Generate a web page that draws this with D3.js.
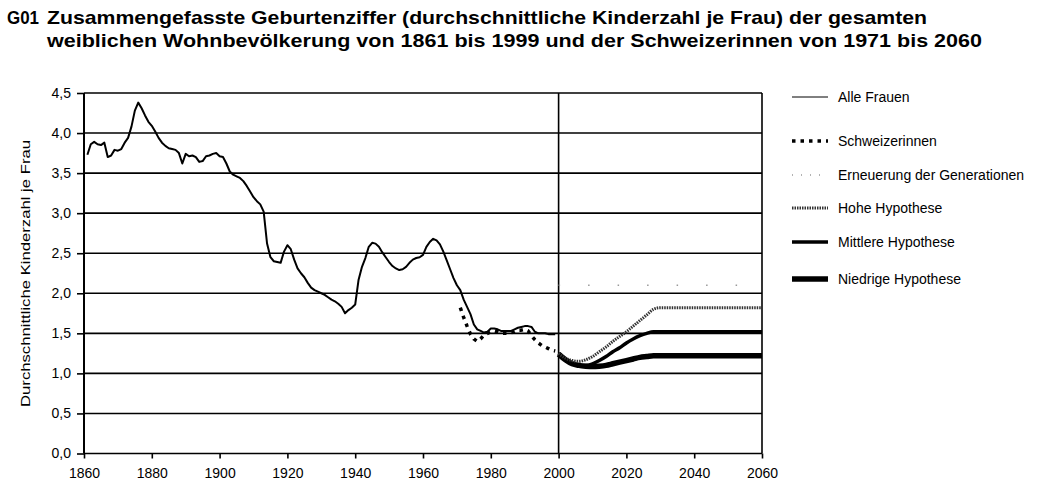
<!DOCTYPE html>
<html>
<head>
<meta charset="utf-8">
<script src="https://cdn.jsdelivr.net/npm/d3@7"></script>
<style>
  body { margin: 0; background: #fff; }
  text { font-family: "Liberation Sans", Arial, sans-serif; }
</style>
</head>
<body>
<svg id="canvas" width="1060" height="481"></svg>
<script>
const svg = d3.select("#canvas");

// Alle Frauen 1861-1999
const alleYears = d3.range(1861, 2000);
const alleValues = [
    3.73, 3.86, 3.89, 3.86, 3.85, 3.88, 3.70, 3.72, 3.79, 3.78,
    3.80, 3.88, 3.94, 4.08, 4.28, 4.38, 4.31, 4.22, 4.14, 4.09,
    4.02, 3.94, 3.88, 3.84, 3.81, 3.80, 3.79, 3.75, 3.62, 3.74,
    3.71, 3.72, 3.70, 3.64, 3.65, 3.71, 3.72, 3.74, 3.75, 3.71,
    3.70, 3.62, 3.52, 3.48, 3.46, 3.44, 3.40, 3.34, 3.27, 3.20,
    3.15, 3.11, 3.02, 2.62, 2.45, 2.40, 2.39, 2.38, 2.52, 2.60,
    2.55, 2.42, 2.31, 2.25, 2.20, 2.13, 2.07, 2.04, 2.02, 2.00,
    1.98, 1.95, 1.92, 1.90, 1.87, 1.83, 1.75, 1.79, 1.82, 1.86,
    2.17, 2.33, 2.44, 2.58, 2.63, 2.62, 2.58, 2.51, 2.45, 2.39,
    2.34, 2.31, 2.29, 2.30, 2.33, 2.38, 2.42, 2.44, 2.45, 2.48,
    2.58, 2.64, 2.68, 2.66, 2.61, 2.52, 2.41, 2.30, 2.19, 2.10,
    2.04, 1.92, 1.83, 1.74, 1.61, 1.55, 1.53, 1.51, 1.52, 1.56,
    1.56, 1.55, 1.53, 1.53, 1.53, 1.53, 1.55, 1.57, 1.58, 1.59,
    1.59, 1.58, 1.52, 1.50, 1.50, 1.50, 1.49, 1.49, 1.49
];

// Schweizerinnen 1971-1999
const schweizYears = d3.range(1971, 2000);
const schweizValues = [
    1.82, 1.70, 1.59, 1.49, 1.43, 1.40, 1.43, 1.48, 1.50, 1.52,
    1.53, 1.52, 1.50, 1.50, 1.50, 1.51, 1.52, 1.54, 1.54, 1.55,
    1.53, 1.47, 1.42, 1.38, 1.35, 1.33, 1.31, 1.29, 1.28
];

// Szenarien 2000-2060
const projYears = [2000, 2002, 2004, 2006, 2008, 2010, 2012, 2014, 2016, 2018,
                   2020, 2022, 2024, 2026, 2028, 2030, 2040, 2050, 2060];
const hoheValues = [1.25, 1.19, 1.16, 1.15, 1.17, 1.21, 1.27, 1.33, 1.40, 1.46,
                    1.52, 1.59, 1.66, 1.73, 1.80, 1.82, 1.82, 1.82, 1.82];
const mittlereValues = [1.25, 1.18, 1.13, 1.10, 1.10, 1.12, 1.16, 1.21, 1.27, 1.32,
                        1.38, 1.43, 1.47, 1.50, 1.52, 1.52, 1.52, 1.52, 1.52];
const niedrigeValues = [1.24, 1.17, 1.12, 1.10, 1.09, 1.085, 1.09, 1.10, 1.12, 1.14,
                        1.16, 1.18, 1.20, 1.21, 1.22, 1.22, 1.22, 1.22, 1.22];

const erneuerungYears = [2000, 2060];
const erneuerungValues = [2.1, 2.1];

const yTicks = [0, 0.5, 1, 1.5, 2, 2.5, 3, 3.5, 4, 4.5];
const xTicks = [1860, 1880, 1900, 1920, 1940, 1960, 1980, 2000, 2020, 2040, 2060];

const legendLabels = ["Alle Frauen", "Schweizerinnen", "Erneuerung der Generationen",
                      "Hohe Hypothese", "Mittlere Hypothese", "Niedrige Hypothese"];

const x = d3.scaleLinear().domain([1860, 2060]).range([84, 762]);
const y = d3.scaleLinear().domain([0, 4.5]).range([453.5, 93]);

const fmt = d => d3.format(".1f")(d).replace(".", ",");

// title
const title = svg.append("g")
    .attr("font-weight", "bold")
    .attr("font-size", "18.5px")
    .attr("fill", "#000");
title.append("text").attr("x", 7).attr("y", 24)
    .attr("textLength", 32).attr("lengthAdjust", "spacingAndGlyphs").text("G01");
title.append("text").attr("x", 47).attr("y", 24)
    .attr("textLength", 880).attr("lengthAdjust", "spacingAndGlyphs")
    .text("Zusammengefasste Geburtenziffer (durchschnittliche Kinderzahl je Frau) der gesamten");
title.append("text").attr("x", 47).attr("y", 47)
    .attr("textLength", 935).attr("lengthAdjust", "spacingAndGlyphs")
    .text("weiblichen Wohnbevölkerung von 1861 bis 1999 und der Schweizerinnen von 1971 bis 2060");

// grid
svg.append("g").selectAll("line")
    .data(yTicks)
    .enter()
    .append("line")
    .attr("x1", x(1860))
    .attr("x2", x(2060))
    .attr("y1", d => y(d))
    .attr("y2", d => y(d))
    .attr("stroke", "#000")
    .attr("stroke-width", 1.6);

[1860, 2000, 2060].forEach(yr => {
    svg.append("line")
        .attr("x1", x(yr)).attr("x2", x(yr))
        .attr("y1", y(4.5)).attr("y2", y(0))
        .attr("stroke", "#000")
        .attr("stroke-width", yr === 1860 ? 2 : 1.6);
});

// axes
const yAxis = svg.append("g")
    .attr("transform", `translate(${x(1860)},0)`)
    .call(d3.axisLeft(y).tickValues(yTicks).tickFormat(fmt).tickSize(7).tickPadding(6));
const xAxis = svg.append("g")
    .attr("transform", `translate(0,${y(0)})`)
    .call(d3.axisBottom(x).tickValues(xTicks).tickFormat(d3.format("d")).tickSize(5).tickPadding(10));
[yAxis, xAxis].forEach(g => {
    g.select(".domain").remove();
    g.selectAll(".tick line").attr("stroke", "#000").attr("stroke-width", 1.6);
    g.selectAll(".tick text")
        .attr("font-family", "'Liberation Sans', Arial, sans-serif")
        .attr("font-size", "14px")
        .attr("fill", "#000");
});

svg.append("text")
    .attr("transform", `translate(30,${(140 + 407) / 2}) rotate(-90)`)
    .attr("text-anchor", "middle")
    .attr("font-size", "13.5px")
    .attr("textLength", 267)
    .attr("lengthAdjust", "spacingAndGlyphs")
    .text("Durchschnittliche Kinderzahl je Frau");

// lines
const line = d3.line()
    .x(d => x(d[0]))
    .y(d => y(d[1]));
const smooth = d3.line()
    .x(d => x(d[0]))
    .y(d => y(d[1]))
    .curve(d3.curveMonotoneX);

const zip = (a, b) => a.map((v, i) => [v, b[i]]);

const styles = [
    { width: 2, dash: null, color: "#000" },
    { width: 3.5, dash: "3.5,5", color: "#000" },
    { width: 1.5, dash: "1.5,28", color: "#999" },
    { width: 3, dash: "1.5,1", color: "#333" },
    { width: 3.5, dash: null, color: "#000" },
    { width: 5.5, dash: null, color: "#000" }
];

function drawSeries(points, st, gen) {
    svg.append("path")
        .datum(points)
        .attr("d", gen)
        .attr("fill", "none")
        .attr("stroke", st.color)
        .attr("stroke-width", st.width)
        .attr("stroke-dasharray", st.dash)
        .attr("stroke-linejoin", "round");
}

drawSeries(zip(erneuerungYears, erneuerungValues), styles[2], line);
drawSeries(zip(alleYears, alleValues), styles[0], line);
drawSeries(zip(schweizYears, schweizValues), styles[1], line);
drawSeries(zip(projYears, niedrigeValues), styles[5], smooth);
drawSeries(zip(projYears, mittlereValues), styles[4], smooth);
drawSeries(zip(projYears, hoheValues), styles[3], smooth);

// legend
const legendY = [97, 141, 175, 208, 242, 279];
const legend = svg.append("g");
legendLabels.forEach((lab, i) => {
    const st = styles[i];
    legend.append("line")
        .attr("x1", 792).attr("x2", 828)
        .attr("y1", legendY[i]).attr("y2", legendY[i])
        .attr("stroke", st.color)
        .attr("stroke-width", i === 0 ? 1 : st.width)
        .attr("stroke-dasharray", i === 2 ? "1,8" : st.dash);
    legend.append("text")
        .attr("x", 838)
        .attr("y", legendY[i] + 5)
        .attr("font-size", "14px")
        .text(lab);
});
</script>
</body>
</html>
